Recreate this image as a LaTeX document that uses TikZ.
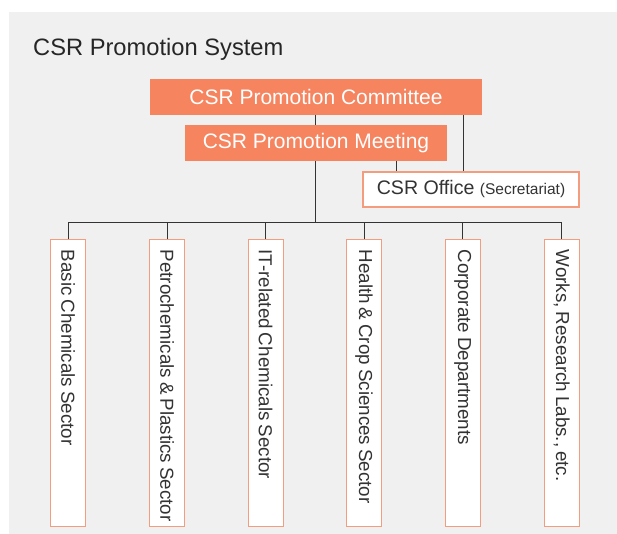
\documentclass[tikz,border=0pt]{standalone}
\usepackage{fontspec}
\setmainfont{Liberation Sans}
\usepackage{tikz}
\usetikzlibrary{positioning, calc}
\usepackage{xcolor}
\definecolor{PanelGray}{HTML}{F0F0F0}
\definecolor{CsrOrange}{HTML}{F5845F}
\definecolor{CsrEdge}{HTML}{F49C7E}
\definecolor{InkGray}{HTML}{333333}
\tikzset{
  headbox/.style={fill=CsrOrange, text=white, align=center, inner sep=0pt,
    minimum height=36pt, font=\fontsize{21}{24}\selectfont},
  officebox/.style={draw=CsrEdge, line width=1.3pt, fill=white, text=InkGray,
    inner sep=0pt, minimum width=216pt, minimum height=35pt,
    font=\fontsize{19.6}{22}\selectfont},
  secbox/.style={draw=CsrEdge, line width=1.3pt, fill=white, text=InkGray,
    rotate=-90, anchor=west, inner xsep=10pt, inner ysep=0pt,
    minimum height=35pt, font=\fontsize{18.8}{22}\selectfont},
  link/.style={draw=InkGray, line width=1pt},
}
\newcommand{\sectext}[1]{\makebox[266.7pt][l]{\spaceskip=0.21em #1}}
\begin{document}
\begin{tikzpicture}[x=1pt, y=-1pt]
    \useasboundingbox (0,0) rectangle (617,534);
    \fill[PanelGray] (9,12) rectangle (617,534);
    \node[anchor=base west, text=black!85, inner sep=0pt,
      font=\fontsize{23.7}{26}\selectfont] (title) at (33,56) {CSR Promotion System};
    \node[headbox, minimum width=332pt] (comm) at (316,97) {CSR Promotion Committee};
    \node[headbox, minimum width=262pt] (meet) at (316,143) {CSR Promotion Meeting};
    \node[officebox] (office) at (471,189.5)
      {CSR Office {\fontsize{15.5}{18}\selectfont(Secretariat)}};
    \coordinate (bus) at (315,222.5);
    \foreach \i/\x/\txt in {1/68/Basic Chemicals Sector,
        2/167/Petrochemicals \& Plastics Sector,
        3/265.7/IT-related Chemicals Sector,
        4/364/Health \& Crop Sciences Sector,
        5/462.7/Corporate Departments,
        6/561.7/{Works, Research Labs., etc.}}
      \node[secbox] (s\i) at (\x,239) {\sectext{\txt}};
    \draw[link] (comm.south -| bus) -- (meet.north -| bus);
    \draw[link] (meet.south -| bus) -- (bus);
    \draw[link] (comm.south -| 463,0) -- (office.north -| 463,0);
    \draw[link] (meet.south -| 396,0) -- (office.north -| 396,0);
    \draw[link] (s1.west) -- (s1.west |- bus) -- (s6.west |- bus) -- (s6.west);
    \foreach \i in {2,...,5}
      \draw[link] (s\i.west) -- (s\i.west |- bus);
  \end{tikzpicture}
\end{document}
